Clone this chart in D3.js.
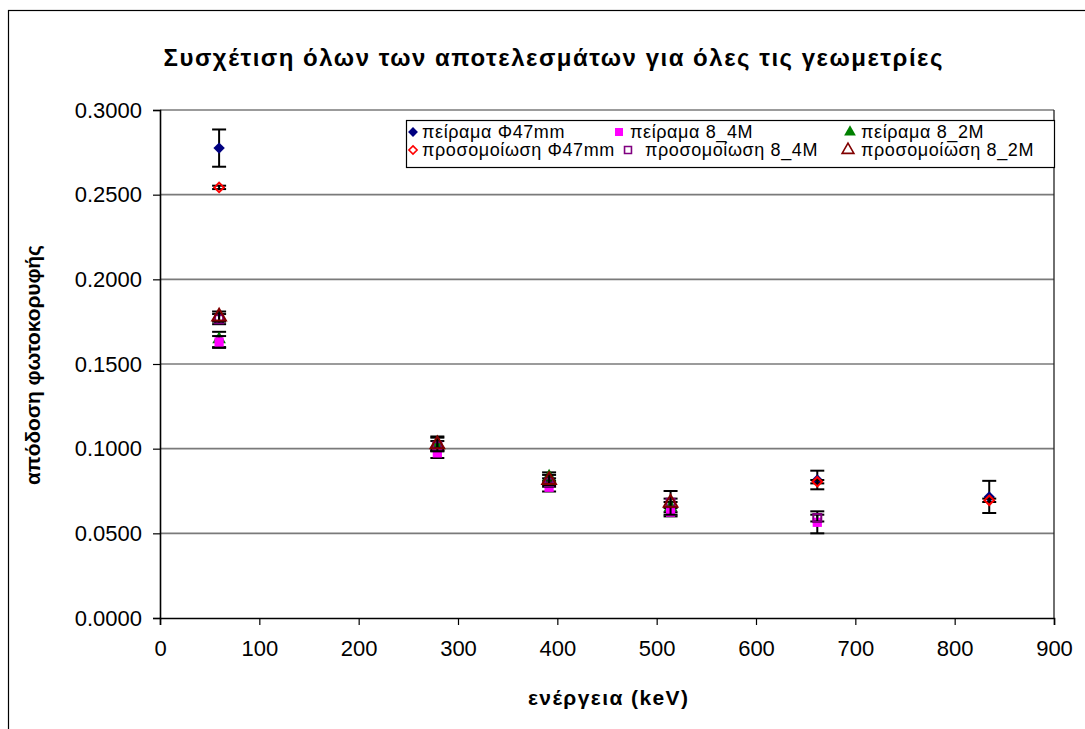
<!DOCTYPE html>
<html>
<head>
<meta charset="utf-8">
<script src="https://cdn.jsdelivr.net/npm/d3@7"></script>
<style>
  body { margin: 0; background: #fff; }
  text { font-family: "Liberation Sans", Arial, sans-serif; }
</style>
</head>
<body>
<div id="chart"></div>
<script>
// energies (keV) for each geometry
var energiesPhi = [59.5, 661.7, 834.8]
var energies8_4 = [59.5, 279.2, 391.7, 514.0, 661.7]
var energies8_2 = [59.5, 279.2, 391.7, 514.0]

// photopeak efficiency values and errors
var expPhi = [0.2775, 0.0815, 0.0715]
var expPhiErr = [0.011, 0.0055, 0.0095]
var simPhi = [0.2543, 0.0805, 0.0695]
var simPhiErr = [0.001, 0.001, 0.001]

var exp8_4 = [0.1630, 0.0975, 0.0772, 0.0625, 0.0565]
var exp8_4Err = [0.0035, 0.0030, 0.0025, 0.0025, 0.0065]
var sim8_4 = [0.1765, 0.1015, 0.0800, 0.0680, 0.0590]
var sim8_4Err = [0.0030, 0.0030, 0.0025, 0.0025, 0.0020]

var exp8_2 = [0.1645, 0.1032, 0.0835, 0.0655]
var exp8_2Err = [0.0045, 0.0040, 0.0025, 0.0030]
var sim8_2 = [0.1780, 0.1025, 0.0815, 0.0680]
var sim8_2Err = [0.0030, 0.0040, 0.0030, 0.0070]

var xTicks = [0, 100, 200, 300, 400, 500, 600, 700, 800, 900]
var yTicks = [0, 0.05, 0.10, 0.15, 0.20, 0.25, 0.30]

var legendNames = ["πείραμα Φ47mm", "πείραμα 8_4M", "πείραμα 8_2M",
                   "προσομοίωση Φ47mm", "προσομοίωση 8_4M", "προσομοίωση 8_2M"]

var width = 1085
    height = 729
var plot = {left: 160, right: 1054, top: 110, bottom: 618}

var svg = d3.select("#chart").append("svg")
    .attr("width", width)
    .attr("height", height)

// outer chart border
svg.append("rect")
    .attr("x", 8.5).attr("y", 10.5)
    .attr("width", 1090).attr("height", 730)
    .attr("fill", "none").attr("stroke", "#000").attr("stroke-width", 1.2)

var x = d3.scaleLinear().domain([0, 900]).range([plot.left, plot.right])
var y = d3.scaleLinear().domain([0, 0.3]).range([plot.bottom, plot.top])

// Excel style diamond: a square turned 45 degrees
var diamond = {
  draw: function(ctx, size) {
    var r = Math.sqrt(size) / 2
    ctx.moveTo(0, -r); ctx.lineTo(r, 0); ctx.lineTo(0, r); ctx.lineTo(-r, 0); ctx.closePath()
  }
}

// gridlines
svg.append("g").selectAll("line")
  .data(yTicks.slice(1))
  .enter().append("line")
    .attr("x1", plot.left).attr("x2", plot.right)
    .attr("y1", function(d) { return y(d) }).attr("y2", function(d) { return y(d) })
    .attr("stroke", "#7a7a7a").attr("stroke-width", 1.6)

// right edge of plot area
svg.append("line")
    .attr("x1", plot.right).attr("x2", plot.right)
    .attr("y1", plot.top).attr("y2", plot.bottom)
    .attr("stroke", "#222").attr("stroke-width", 1.3)

// axes
var xAxis = svg.append("g")
    .attr("transform", "translate(0," + plot.bottom + ")")
    .call(d3.axisBottom(x).tickValues(xTicks).tickSize(7).tickPadding(15).tickFormat(d3.format("d")))
var yAxis = svg.append("g")
    .attr("transform", "translate(" + plot.left + ",0)")
    .call(d3.axisLeft(y).tickValues(yTicks).tickSize(7).tickPadding(11).tickFormat(d3.format(".4f")))

;[xAxis, yAxis].forEach(function(a) {
  a.select(".domain").attr("stroke", "#000").attr("stroke-width", 1.6)
  a.selectAll(".tick line").attr("stroke", "#000").attr("stroke-width", 1.2)
  a.selectAll("text").attr("font-size", 22).attr("fill", "#000")
    .style("font-family", "'Liberation Sans', Arial, sans-serif")
})

// titles
svg.append("text")
    .attr("x", 553).attr("y", 66)
    .attr("text-anchor", "middle")
    .attr("font-size", 24).attr("font-weight", "bold")
    .attr("textLength", 779).attr("lengthAdjust", "spacing")
    .text("Συσχέτιση όλων των αποτελεσμάτων για όλες τις γεωμετρίες")

svg.append("text")
    .attr("x", 608).attr("y", 705)
    .attr("text-anchor", "middle")
    .attr("font-size", 21).attr("font-weight", "bold")
    .attr("textLength", 160).attr("lengthAdjust", "spacing")
    .text("ενέργεια (keV)")

svg.append("text")
    .attr("transform", "translate(40,365) rotate(-90)")
    .attr("text-anchor", "middle")
    .attr("font-size", 21).attr("font-weight", "bold")
    .attr("textLength", 240).attr("lengthAdjust", "spacing")
    .text("απόδοση φωτοκορυφής")

// series definitions
var series = [
  {xs: energies8_2, ys: exp8_2, err: exp8_2Err, shape: d3.symbolTriangle, size: 80, fill: "#008000", stroke: "none"},
  {xs: energies8_4, ys: exp8_4, err: exp8_4Err, shape: d3.symbolSquare, size: 85, fill: "#ff00ff", stroke: "none"},
  {xs: energiesPhi, ys: expPhi, err: expPhiErr, shape: diamond, size: 130, fill: "#000080", stroke: "none"},
  {xs: energies8_4, ys: sim8_4, err: sim8_4Err, shape: d3.symbolSquare, size: 64, fill: "none", stroke: "#800080"},
  {xs: energies8_2, ys: sim8_2, err: sim8_2Err, shape: d3.symbolTriangle, size: 80, fill: "none", stroke: "#800000"},
  {xs: energiesPhi, ys: simPhi, err: simPhiErr, shape: diamond, size: 90, fill: "none", stroke: "#ff0000"}
]

series.forEach(function(s) {
  var pts = s.xs.map(function(e, i) { return {e: e, v: s.ys[i], err: s.err[i]} })
  var g = svg.append("g")
  // error bars
  var eb = g.selectAll("g.eb").data(pts).enter().append("g")
  eb.append("line")
      .attr("x1", function(d) { return x(d.e) }).attr("x2", function(d) { return x(d.e) })
      .attr("y1", function(d) { return y(d.v + d.err) }).attr("y2", function(d) { return y(d.v - d.err) })
      .attr("stroke", "#000").attr("stroke-width", 2)
  ;[1, -1].forEach(function(sgn) {
    eb.append("line")
        .attr("x1", function(d) { return x(d.e) - 7 }).attr("x2", function(d) { return x(d.e) + 7 })
        .attr("y1", function(d) { return y(d.v + sgn * d.err) }).attr("y2", function(d) { return y(d.v + sgn * d.err) })
        .attr("stroke", "#000").attr("stroke-width", 2)
  })
  g.selectAll("path").data(pts).enter().append("path")
      .attr("transform", function(d) { return "translate(" + x(d.e) + "," + y(d.v) + ")" })
      .attr("d", d3.symbol().type(s.shape).size(s.size))
      .attr("fill", s.fill)
      .attr("stroke", s.stroke)
      .attr("stroke-width", 2)
})

// legend
var legend = svg.append("g")
legend.append("rect")
    .attr("x", 406.5).attr("y", 120.5)
    .attr("width", 648).attr("height", 47)
    .attr("fill", "#fff").attr("stroke", "#000").attr("stroke-width", 1.2)

var legendOrder = [series[2], series[1], series[0], series[5], series[3], series[4]]
var markX = [413, 619, 850, 413, 628, 848]
var textX = [422, 630, 861, 422, 645, 861]
var rowY = [132, 150]
legendOrder.forEach(function(s, i) {
  var cy = rowY[Math.floor(i / 3)]
  legend.append("path")
      .attr("transform", "translate(" + markX[i] + "," + cy + ")")
      .attr("d", d3.symbol().type(s.shape).size(s.size * 0.75))
      .attr("fill", s.fill).attr("stroke", s.stroke).attr("stroke-width", 1.6)
  legend.append("text")
      .attr("x", textX[i]).attr("y", cy + 6)
      .attr("font-size", 18)
      .attr("letter-spacing", 0.6)
      .text(legendNames[i])
})
</script>
</body>
</html>
